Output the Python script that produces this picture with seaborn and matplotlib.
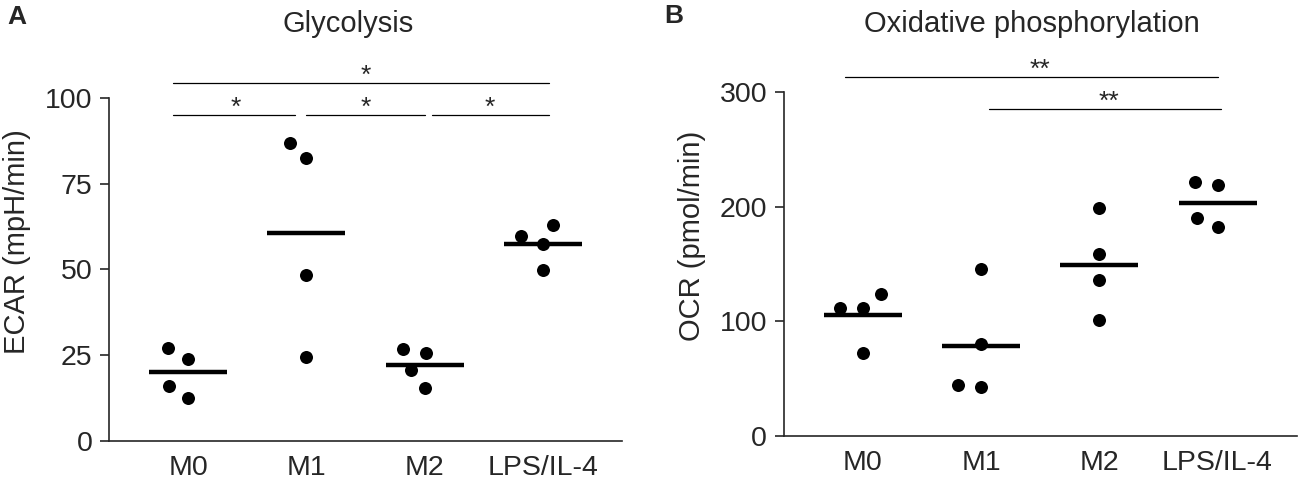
import pandas as pd
import seaborn as sns
import matplotlib.pyplot as plt

groups = ['M0', 'M1', 'M2', 'LPS/IL-4']
ecar_m0 = [27.2, 24.0, 16.0, 12.6]
ecar_m1 = [86.8, 82.3, 48.4, 24.4]
ecar_m2 = [26.7, 25.7, 20.7, 15.5]
ecar_lps = [63.0, 59.6, 57.3, 49.9]
ocr_m0 = [124.0, 111.8, 111.8, 72.5]
ocr_m1 = [145.9, 79.8, 44.3, 42.8]
ocr_m2 = [199.1, 158.7, 136.0, 101.0]
ocr_lps = [221.8, 219.2, 190.1, 182.0]

# significance brackets: (x start, x end, y, star x, label)
ecar_sig = [(-0.13, 3.05, 104.4, 1.50, '*'),
            (-0.13, 0.90, 95.0, 0.40, '*'),
            (1.00, 2.00, 95.0, 1.50, '*'),
            (2.06, 3.05, 95.0, 2.55, '*')]
ocr_sig = [(-0.15, 3.00, 313.3, 1.50, '**'),
           (1.07, 3.03, 285.1, 2.08, '**')]

ecar = pd.DataFrame({'group': sum([[g] * 4 for g in groups], []),
                     'value': ecar_m0 + ecar_m1 + ecar_m2 + ecar_lps})
ocr = pd.DataFrame({'group': sum([[g] * 4 for g in groups], []),
                    'value': ocr_m0 + ocr_m1 + ocr_m2 + ocr_lps})

sns.set_style('ticks')
plt.rcParams['font.family'] = ['Liberation Sans', 'DejaVu Sans']

fig = plt.figure(figsize=(12.98, 4.82), dpi=100)
ax_a = fig.add_axes([0.0840, 0.0851, 0.3952, 0.7122])
ax_b = fig.add_axes([0.6038, 0.0961, 0.3952, 0.7131])


def panel(ax, df, ylim, yticks, ylabel, sig):
    # white edge widens the swarm spacing without enlarging the visible dot
    sns.swarmplot(data=df, x='group', y='value', order=groups, color='black',
                  size=12.6, linewidth=3.2, edgecolor='white', ax=ax, zorder=3)
    sns.pointplot(data=df, x='group', y='value', order=groups, estimator='mean',
                  errorbar=None, color='black', markers='_', linestyles='none',
                  markersize=56, markeredgewidth=3.2, ax=ax, zorder=5)
    ax.set_xlim(-0.67, 3.67)
    ax.set_ylim(*ylim)
    ax.set_yticks(yticks)
    ax.set_xlabel('')
    ax.set_ylabel(ylabel, fontsize=21)
    ax.yaxis.set_label_coords(-0.152, 0.581)
    sns.despine(ax=ax)
    for s in ['left', 'bottom']:
        ax.spines[s].set_linewidth(1.2)
    ax.tick_params(axis='y', length=6.5, width=1.2, pad=5.5, labelsize=20.5)
    ax.tick_params(axis='x', length=0, pad=10, labelsize=20.5)
    for x0, x1, y, xs, lab in sig:
        ax.plot([x0, x1], [y, y], color='black', lw=0.9, clip_on=False)
        ax.text(xs, y, lab, ha='center', va='baseline', fontsize=19)


panel(ax_a, ecar, (0, 100), [0, 25, 50, 75, 100], 'ECAR (mpH/min)', ecar_sig)
panel(ax_b, ocr, (0, 300), [0, 100, 200, 300], 'OCR (pmol/min)', ocr_sig)

fig.text(348.5 / 1298, 1 - 32 / 482, 'Glycolysis', fontsize=21, ha='center', va='baseline')
fig.text(1032 / 1298, 1 - 32 / 482, 'Oxidative phosphorylation', fontsize=21,
         ha='center', va='baseline')
fig.text(7 / 1298, 1 - 24 / 482, 'A', fontsize=19, fontweight='bold', va='baseline')
fig.text(664 / 1298, 1 - 23 / 482, 'B', fontsize=19, fontweight='bold', va='baseline')

fig.savefig('out.png', dpi=100)
